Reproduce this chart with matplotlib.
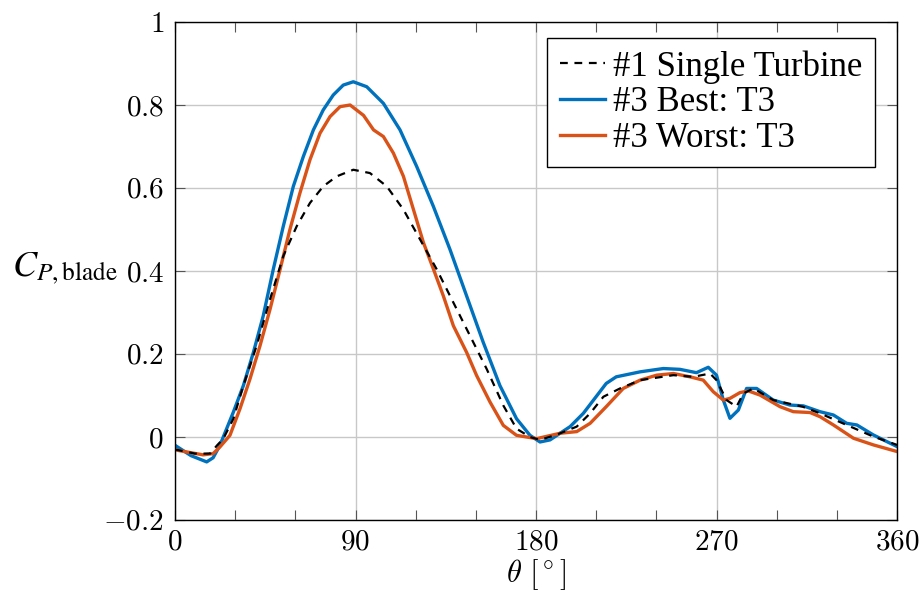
import numpy as np
import matplotlib
matplotlib.use("Agg")
import matplotlib.pyplot as plt
from matplotlib.ticker import MultipleLocator

plt.rcParams['font.family'] = ['Liberation Serif', 'DejaVu Serif']
plt.rcParams['mathtext.fontset'] = 'cm'

# Single turbine (#1)
theta_single = [0, 10, 17.5, 21, 24.1, 29.1, 34.1, 40.7, 47.4, 54, 60.7, 67.3, 73.9, 80.6,
                88.9, 97.2, 105.6, 113.9, 122.2, 130.5, 138.8, 147.1, 155.4, 163.7, 170.3,
                177, 182, 190, 200.3, 207, 213.6, 221.9, 231.9, 248.5, 258.4, 266.8, 270,
                275, 280, 283.4, 288.4, 298.3, 313, 321.6, 334.9, 348.2, 360]
cp_single = [-0.03, -0.04, -0.04, -0.02, -0.004, 0.044, 0.124, 0.22, 0.332, 0.436, 0.508,
             0.564, 0.604, 0.628, 0.644, 0.636, 0.604, 0.548, 0.476, 0.404, 0.324, 0.244,
             0.164, 0.076, 0.02, 0.0, -0.007, 0.005, 0.025, 0.057, 0.097, 0.117, 0.137,
             0.149, 0.145, 0.153, 0.137, 0.089, 0.073, 0.105, 0.117, 0.089, 0.073, 0.057,
             0.029, 0.001, -0.019]

# Best configuration (#3, T3)
theta_best = [0, 8, 15.8, 19, 22.4, 29.1, 34.1, 39.1, 44, 49, 54, 59, 64, 69, 73.9, 78.9,
              83.9, 88.9, 95.6, 103.9, 112.2, 120.5, 128.8, 137.1, 145.4, 153.7, 162,
              170.3, 177, 182, 187, 197, 203.6, 215, 220, 231.9, 243.5, 251.8, 260, 265.9,
              270, 273.4, 276.7, 280.9, 285, 290, 298.3, 306.6, 313.3, 321.6, 328.3, 334.9,
              340, 348.2, 354.9, 360]
cp_best = [-0.02, -0.045, -0.06, -0.05, -0.02, 0.06, 0.124, 0.204, 0.292, 0.404, 0.508,
           0.604, 0.676, 0.74, 0.788, 0.824, 0.848, 0.856, 0.844, 0.804, 0.74, 0.652,
           0.556, 0.452, 0.34, 0.228, 0.124, 0.044, 0.004, -0.012, -0.007, 0.025, 0.057,
           0.129, 0.145, 0.157, 0.165, 0.163, 0.155, 0.168, 0.149, 0.089, 0.045, 0.065,
           0.117, 0.117, 0.089, 0.077, 0.075, 0.061, 0.053, 0.033, 0.029, 0.005, -0.011,
           -0.023]

# Worst configuration (#3, T3)
theta_worst = [0, 14, 19, 22.4, 27.4, 32.4, 37.4, 42.4, 47.4, 52.4, 57.3, 62.3, 67.3, 72.3,
               77.3, 82.3, 87.3, 94, 99, 103.9, 108.9, 113.9, 118.9, 123.9, 128.9, 133.8,
               138.8, 145.4, 150.4, 157.1, 163.7, 170.3, 180.3, 192, 200.3, 207, 215,
               223.5, 231.9, 240.2, 248.5, 256.8, 263.4, 268.4, 273.4, 276.7, 281.7,
               285.9, 291.7, 301.7, 308.3, 316.6, 321.6, 328.3, 338.3, 348.2, 360]
cp_worst = [-0.031, -0.043, -0.04, -0.024, 0.004, 0.068, 0.14, 0.22, 0.308, 0.404, 0.50,
            0.588, 0.668, 0.732, 0.772, 0.796, 0.80, 0.775, 0.74, 0.724, 0.684, 0.628,
            0.548, 0.468, 0.404, 0.34, 0.268, 0.204, 0.148, 0.084, 0.028, 0.004, -0.004,
            0.009, 0.013, 0.033, 0.073, 0.117, 0.137, 0.149, 0.153, 0.145, 0.137, 0.109,
            0.089, 0.093, 0.107, 0.111, 0.101, 0.073, 0.061, 0.059, 0.049, 0.029, -0.003,
            -0.019, -0.035]

x_ticks = [0, 90, 180, 270, 360]
y_ticks = [-0.2, 0, 0.2, 0.4, 0.6, 0.8, 1]
y_ticklabels = ['$-0.2$', '$0$', '$0.2$', '$0.4$', '$0.6$', '$0.8$', '$1$']

fig = plt.figure(figsize=(9.21, 5.92), dpi=100)
ax = fig.add_axes([175 / 921, 72 / 592, 722 / 921, 498 / 592])

ax.plot(theta_single, cp_single, color='black', linestyle=(0, (3.5, 3)), linewidth=1.6,
        label='#1 Single Turbine', zorder=3)
ax.plot(theta_best, cp_best, color='#0072BD', linewidth=2.4, label='#3 Best: T3', zorder=2)
ax.plot(theta_worst, cp_worst, color='#D95319', linewidth=2.4, label='#3 Worst: T3', zorder=2)

ax.set_xlim(0, 360)
ax.set_ylim(-0.2, 1)
ax.set_xticks(x_ticks)
ax.set_xticklabels(['$%d$' % t for t in x_ticks])
ax.xaxis.set_minor_locator(MultipleLocator(30))
ax.set_yticks(y_ticks)
ax.set_yticklabels(y_ticklabels)
ax.grid(True, which='major', color='#c8c8c8', linewidth=1.0)
ax.set_axisbelow(True)
ax.tick_params(which='both', direction='in', top=True, right=True, labelsize=21,
               color='#555555')
ax.tick_params(which='major', length=7, width=0.8)
ax.tick_params(axis='x', which='major', pad=7)
ax.tick_params(axis='y', which='major', pad=8)
ax.tick_params(which='minor', length=7, width=0.8)
for s in ax.spines.values():
    s.set_linewidth(1.0)

ax.set_xlabel(r'$\theta\ [^\circ]$', fontsize=22, labelpad=1)
ylab = ax.set_ylabel(r'$C_{P,\mathrm{blade}}$', fontsize=26, rotation=0, labelpad=0)
ylab.set_math_fontfamily('stix')
ax.yaxis.set_label_coords(-0.152, 0.47)

leg = ax.legend(loc='upper right', fontsize=25, frameon=True, fancybox=False,
                edgecolor='black', framealpha=1, borderpad=0.35, labelspacing=0.08,
                handlelength=1.3, handletextpad=0.25, borderaxespad=0.0,
                bbox_to_anchor=(0.9695, 0.968))
leg.get_frame().set_linewidth(1.0)

fig.savefig('out.png', dpi=100)
